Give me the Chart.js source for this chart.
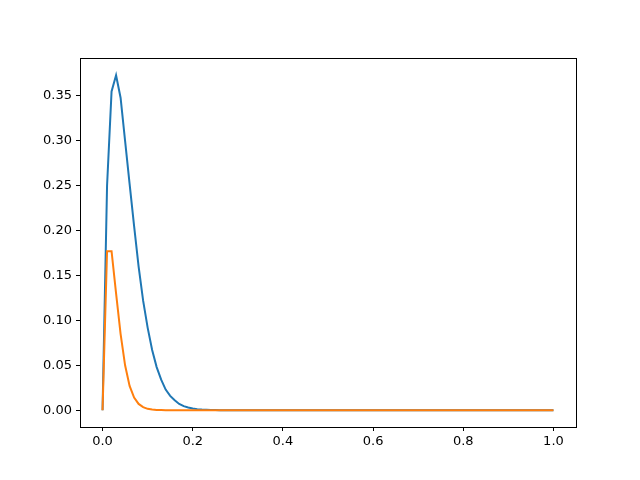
<!DOCTYPE html>
<html>
<head>
<meta charset="utf-8">
<script src="https://cdn.jsdelivr.net/npm/chart.js@4/dist/chart.umd.min.js"></script>
<style>
  html, body { margin: 0; padding: 0; background: #fff; }
  #wrap { width: 640px; height: 480px; }
</style>
</head>
<body>
<div id="wrap"><canvas id="c" width="640" height="480"></canvas></div>
<script>
// x positions (0 .. 1, step 0.01)
const xValues = [
  0.00, 0.01, 0.02, 0.03, 0.04, 0.05, 0.06, 0.07, 0.08, 0.09,
  0.10, 0.11, 0.12, 0.13, 0.14, 0.15, 0.16, 0.17, 0.18, 0.19,
  0.20, 0.21, 0.22, 0.23, 0.24, 0.25, 0.26, 0.27, 0.28, 0.29,
  0.30, 0.31, 0.32, 0.33, 0.34, 0.35, 0.36, 0.37, 0.38, 0.39,
  0.40, 0.41, 0.42, 0.43, 0.44, 0.45, 0.46, 0.47, 0.48, 0.49,
  0.50, 0.51, 0.52, 0.53, 0.54, 0.55, 0.56, 0.57, 0.58, 0.59,
  0.60, 0.61, 0.62, 0.63, 0.64, 0.65, 0.66, 0.67, 0.68, 0.69,
  0.70, 0.71, 0.72, 0.73, 0.74, 0.75, 0.76, 0.77, 0.78, 0.79,
  0.80, 0.81, 0.82, 0.83, 0.84, 0.85, 0.86, 0.87, 0.88, 0.89,
  0.90, 0.91, 0.92, 0.93, 0.94, 0.95, 0.96, 0.97, 0.98, 0.99,
  1.00
];

// blue series
const blueValues = [
  0, 0.25, 0.355, 0.373, 0.348, 0.300, 0.252, 0.205, 0.160, 0.122,
  0.092, 0.067, 0.048, 0.034, 0.023, 0.016, 0.011, 0.007, 0.0045, 0.003,
  0.002, 0.0012, 0.0007, 0.0004, 0.0002, 0.0001, 0, 0, 0, 0,
  0, 0, 0, 0, 0, 0, 0, 0, 0, 0,
  0, 0, 0, 0, 0, 0, 0, 0, 0, 0,
  0, 0, 0, 0, 0, 0, 0, 0, 0, 0,
  0, 0, 0, 0, 0, 0, 0, 0, 0, 0,
  0, 0, 0, 0, 0, 0, 0, 0, 0, 0,
  0, 0, 0, 0, 0, 0, 0, 0, 0, 0,
  0, 0, 0, 0, 0, 0, 0, 0, 0, 0,
  0
];

// orange series
const orangeValues = [
  0, 0.177, 0.177, 0.13, 0.085, 0.05, 0.027, 0.014, 0.007, 0.0035,
  0.0015, 0.0007, 0.0003, 0.0001, 0, 0, 0, 0, 0, 0,
  0, 0, 0, 0, 0, 0, 0, 0, 0, 0,
  0, 0, 0, 0, 0, 0, 0, 0, 0, 0,
  0, 0, 0, 0, 0, 0, 0, 0, 0, 0,
  0, 0, 0, 0, 0, 0, 0, 0, 0, 0,
  0, 0, 0, 0, 0, 0, 0, 0, 0, 0,
  0, 0, 0, 0, 0, 0, 0, 0, 0, 0,
  0, 0, 0, 0, 0, 0, 0, 0, 0, 0,
  0, 0, 0, 0, 0, 0, 0, 0, 0, 0,
  0
];

const xTicks = [0, 0.2, 0.4, 0.6, 0.8, 1.0];
const yTicks = [0, 0.05, 0.10, 0.15, 0.20, 0.25, 0.30, 0.35];

// ── Frame: draw all four spines ─────────────────────────────
const framePlugin = {
  id: 'frame',
  afterDatasetsDraw(chart) {
    const { ctx, chartArea: a } = chart;
    ctx.save();
    ctx.strokeStyle = '#000';
    ctx.lineWidth = 1;
    ctx.strokeRect(Math.round(a.left) + 0.5, Math.round(a.top) + 0.5,
      Math.round(a.right - a.left), Math.round(a.bottom - a.top));
    ctx.restore();
  }
};

const font = { family: 'DejaVu Sans', size: 13 };

new Chart(document.getElementById('c'), {
  type: 'line',
  data: {
    datasets: [
      {
        data: xValues.map((x, i) => ({ x, y: blueValues[i] })),
        borderColor: '#1f77b4',
        borderWidth: 2,
        pointRadius: 0,
        tension: 0,
        fill: false,
        order: 1
      },
      {
        data: xValues.map((x, i) => ({ x, y: orangeValues[i] })),
        borderColor: '#ff7f0e',
        borderWidth: 2,
        pointRadius: 0,
        tension: 0,
        fill: false,
        order: 0
      }
    ]
  },
  options: {
    responsive: false,
    animation: false,
    layout: { padding: { left: 0, right: 64, top: 58, bottom: 0 } },
    scales: {
      x: {
        type: 'linear',
        min: -0.05, max: 1.05,
        afterBuildTicks: s => { s.ticks = xTicks.map(v => ({ value: v })); },
        afterFit: s => { s.height = 53; },
        ticks: { color: '#000', font, padding: 3, maxRotation: 0, callback: v => v.toFixed(1) },
        grid: { drawOnChartArea: false, drawTicks: true, tickLength: 4, tickColor: '#000' },
        border: { display: true, color: '#000', width: 1 }
      },
      y: {
        min: -0.0187, max: 0.3922,
        afterBuildTicks: s => { s.ticks = yTicks.map(v => ({ value: v })); },
        afterFit: s => { s.width = 80; },
        ticks: { color: '#000', font, padding: 4, callback: v => v.toFixed(2) },
        grid: { drawOnChartArea: false, drawTicks: true, tickLength: 4, tickColor: '#000' },
        border: { display: true, color: '#000', width: 1 }
      }
    },
    plugins: {
      legend: { display: false },
      tooltip: { enabled: false }
    }
  },
  plugins: [framePlugin]
});
</script>
</body>
</html>
